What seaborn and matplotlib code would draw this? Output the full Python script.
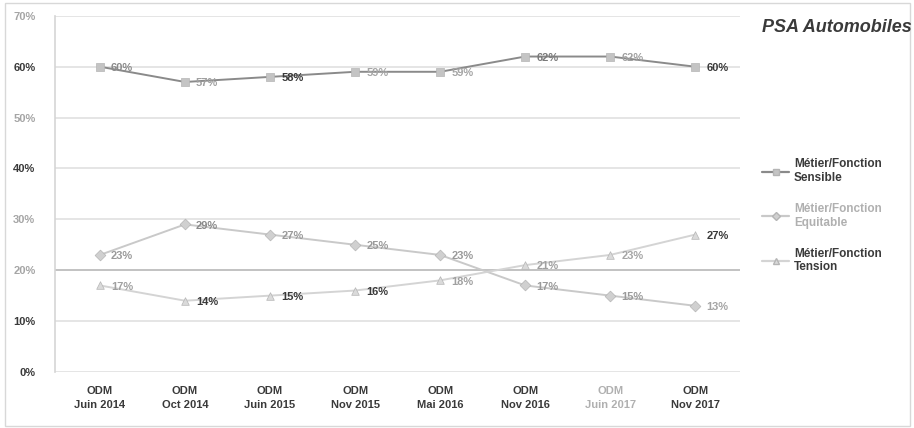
import matplotlib
matplotlib.use("Agg")
import matplotlib.pyplot as plt
import seaborn as sns
import pandas as pd
from matplotlib.lines import Line2D
from matplotlib.patches import Rectangle

sns.set_theme(style="white")
plt.rcParams["font.family"] = ["Liberation Sans", "DejaVu Sans"]

# Survey waves
waves = ["ODM\nJuin 2014", "ODM\nOct 2014", "ODM\nJuin 2015", "ODM\nNov 2015",
         "ODM\nMai 2016", "ODM\nNov 2016", "ODM\nJuin 2017", "ODM\nNov 2017"]

# Share of employees per job category (%)
sensible = [60, 57, 58, 59, 59, 62, 62, 60]
equitable = [23, 29, 27, 25, 23, 17, 15, 13]
tension = [17, 14, 15, 16, 18, 21, 23, 27]

series_names = ["Métier/Fonction\nSensible", "Métier/Fonction\nEquitable", "Métier/Fonction\nTension"]

df = pd.concat([
    pd.DataFrame({"x": range(len(waves)), "val": v, "serie": n})
    for v, n in zip([sensible, equitable, tension], series_names)
], ignore_index=True)

line_cols = {series_names[0]: "#8a8a8a", series_names[1]: "#c9c9c9", series_names[2]: "#d4d4d4"}
mark_cols = {series_names[0]: "#c4c4c4", series_names[1]: "#d0d0d0", series_names[2]: "#dadada"}
markers = {series_names[0]: "s", series_names[1]: "D", series_names[2]: "^"}

# Label tones per point, as printed
label_tones = {
    series_names[0]: ["#8a8a8a", "#a0a0a0", "#3a3a3a", "#a5a5a5", "#a5a5a5", "#7a7a7a", "#a0a0a0", "#3a3a3a"],
    series_names[1]: ["#9a9a9a", "#8a8a8a", "#9a9a9a", "#9a9a9a", "#9a9a9a", "#9a9a9a", "#9a9a9a", "#a5a5a5"],
    series_names[2]: ["#a0a0a0", "#3a3a3a", "#3a3a3a", "#3a3a3a", "#a0a0a0", "#a0a0a0", "#a5a5a5", "#3a3a3a"],
}

fig = plt.figure(figsize=(9.14, 4.28), dpi=100)
ax = fig.add_axes([0.060, 0.131, 0.750, 0.832])

sns.lineplot(data=df, x="x", y="val", hue="serie", palette=line_cols, linewidth=1.4,
             legend=False, ax=ax, zorder=3)
for name in series_names:
    sub = df[df["serie"] == name]
    ax.scatter(sub["x"], sub["val"], marker=markers[name], s=30, color=mark_cols[name],
               edgecolor="#b5b5b5", linewidth=0.5, zorder=4)
    for (xi, yi), tone in zip(zip(sub["x"], sub["val"]), label_tones[name]):
        ax.annotate(f"{yi}%", (xi, yi), xytext=(8, -1), textcoords="offset points",
                    ha="left", va="center", fontsize=8, fontweight="bold", color=tone, zorder=5)

ax.set_xlim(-0.53, 7.53)
ax.set_ylim(0, 70)
ax.set_yticks(range(0, 71, 10))
ytones = ["#3a3a3a", "#3a3a3a", "#a5a5a5", "#a5a5a5", "#3a3a3a", "#a5a5a5", "#3a3a3a", "#a5a5a5"]
ax.set_yticklabels([f"{t}%" for t in range(0, 71, 10)], fontsize=8, fontweight="bold")
for lab, tone in zip(ax.get_yticklabels(), ytones):
    lab.set_color(tone)
ax.set_xticks(range(len(waves)))
ax.set_xticklabels(waves, fontsize=8, fontweight="bold", linespacing=1.5)
for i, lab in enumerate(ax.get_xticklabels()):
    lab.set_color("#b0b0b0" if i == 6 else "#3a3a3a")
ax.tick_params(axis="x", pad=10, length=0)
ax.tick_params(axis="y", pad=14, length=0)
ax.set_xlabel("")
ax.set_ylabel("")

for t in range(0, 71, 10):
    ax.axhline(t, color="#b8b8b8" if t == 20 else "#e0e0e0", linewidth=1.2, zorder=1)

for s in ["top", "right", "bottom"]:
    ax.spines[s].set_visible(False)
ax.spines["left"].set_color("#d5d5d5")
ax.spines["left"].set_linewidth(1.2)

# Legend
handles = [Line2D([0], [0], color=line_cols[n], marker=markers[n], markersize=4,
                  markerfacecolor=mark_cols[n], markeredgecolor="#b5b5b5", linewidth=1.6)
           for n in series_names]
leg = fig.legend(handles, series_names, loc="upper left", bbox_to_anchor=(0.822, 0.655),
                 frameon=False, handlelength=2.3, labelspacing=1.6,
                 handletextpad=0.4, prop={"weight": "bold", "size": 8.5})
for txt, tone in zip(leg.get_texts(), ["#3a3a3a", "#b0b0b0", "#3a3a3a"]):
    txt.set_color(tone)

fig.text(0.834, 0.935, "PSA Automobiles", fontsize=13, fontweight="bold", style="italic",
         color="#3a3a3a", ha="left", va="center")

fig.patches.append(Rectangle((0.006, 0.004), 0.99, 0.99, transform=fig.transFigure,
                             fill=False, edgecolor="#d8d8d8", linewidth=1.0))

fig.savefig("out.png", dpi=100)
